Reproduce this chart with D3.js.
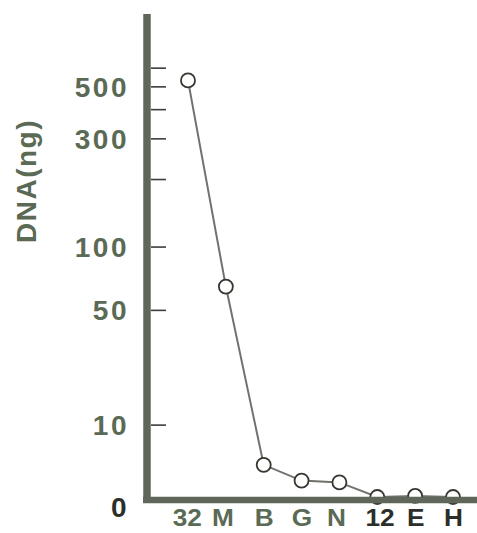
<!DOCTYPE html>
<html><head><meta charset="utf-8">
<script src="https://cdn.jsdelivr.net/npm/d3@7"></script>
<style>html,body{margin:0;padding:0;background:#fff;}svg{display:block;}</style>
</head><body>
<svg id="c" width="477" height="533"></svg>
<script>
const categories = ["32", "M", "B", "G", "N", "12", "E", "H"];
const dnaValues = [530, 65, 3.6, 1.7, 1.5, 0, 0.1, 0];
const labelTicks = [0, 10, 50, 100, 300, 500];
const markTicks = [10, 50, 100, 200, 300, 400, 500, 600];
const darkLabels = ["12", "E", "H"];

const svg = d3.select("#c");
const textCol = "#5b6a55", axisCol = "#5f675a", darkCol = "#2b2e29";
const font = "'Liberation Sans', Arial, sans-serif";

const y = d3.scaleSymlog().constant(10).domain([0, 1000]).range([497, 15]);
const x = d3.scalePoint().domain(categories).range([188, 453]);

// data line
const line = d3.line().x((d, i) => x(categories[i])).y(d => y(d));
svg.append("path").datum(dnaValues).attr("d", line)
  .attr("fill", "none").attr("stroke", "#70736c").attr("stroke-width", 2);
svg.selectAll("circle.pt").data(dnaValues).join("circle")
  .attr("class", "pt")
  .attr("cx", (d, i) => x(categories[i])).attr("cy", d => y(d)).attr("r", 7)
  .attr("fill", "#fff").attr("stroke", "#35372f").attr("stroke-width", 1.8);

// axes lines (drawn on top of points)
svg.append("line").attr("x1", 147).attr("x2", 147).attr("y1", 14).attr("y2", 503)
  .attr("stroke", axisCol).attr("stroke-width", 7.5);
svg.append("line").attr("x1", 143).attr("x2", 477).attr("y1", 500).attr("y2", 500)
  .attr("stroke", axisCol).attr("stroke-width", 6.5);

// tick marks to the right of the axis
const tickG = svg.append("g").attr("transform", "translate(151,0)")
  .call(d3.axisRight(y).tickValues(markTicks).tickSize(15).tickFormat(""));
tickG.select(".domain").remove();
tickG.selectAll(".tick line").attr("stroke", "#3a3f37").attr("stroke-width", 1.6);

// y labels
const labG = svg.append("g").attr("transform", "translate(129,0)")
  .call(d3.axisLeft(y).tickValues(labelTicks).tickSize(0).tickPadding(0).tickFormat(d3.format("d")));
labG.select(".domain").remove();
labG.selectAll(".tick text")
  .attr("font-family", font).attr("font-weight", "bold").attr("font-size", 28)
  .attr("letter-spacing", 2.5)
  .attr("dy", d => d === 0 ? "0.68em" : "0.36em")
  .attr("fill", d => d === 0 ? darkCol : textCol);

// x labels
const xG = svg.append("g").attr("transform", "translate(0,505)")
  .call(d3.axisBottom(x).tickSize(0).tickPadding(0));
xG.select(".domain").remove();
xG.selectAll(".tick text")
  .attr("font-family", font).attr("font-weight", "bold").attr("font-size", 23)
  .attr("dy", "0.92em")
  .attr("transform", "scale(1.14,1)")
  .attr("fill", d => darkLabels.includes(d) ? darkCol : textCol)
  .attr("dx", d => d === "32" ? -1 : (d === "M" ? -3 : (d === "12" ? 2 : (d === "N" ? -3 : 0))));

// title
svg.append("text").attr("transform", "translate(36,181) rotate(-90)")
  .attr("text-anchor", "middle").attr("font-family", font).attr("font-weight", "bold")
  .attr("font-size", 28).attr("letter-spacing", 1.5).attr("fill", textCol).text("DNA(ng)");
</script>
</body></html>
